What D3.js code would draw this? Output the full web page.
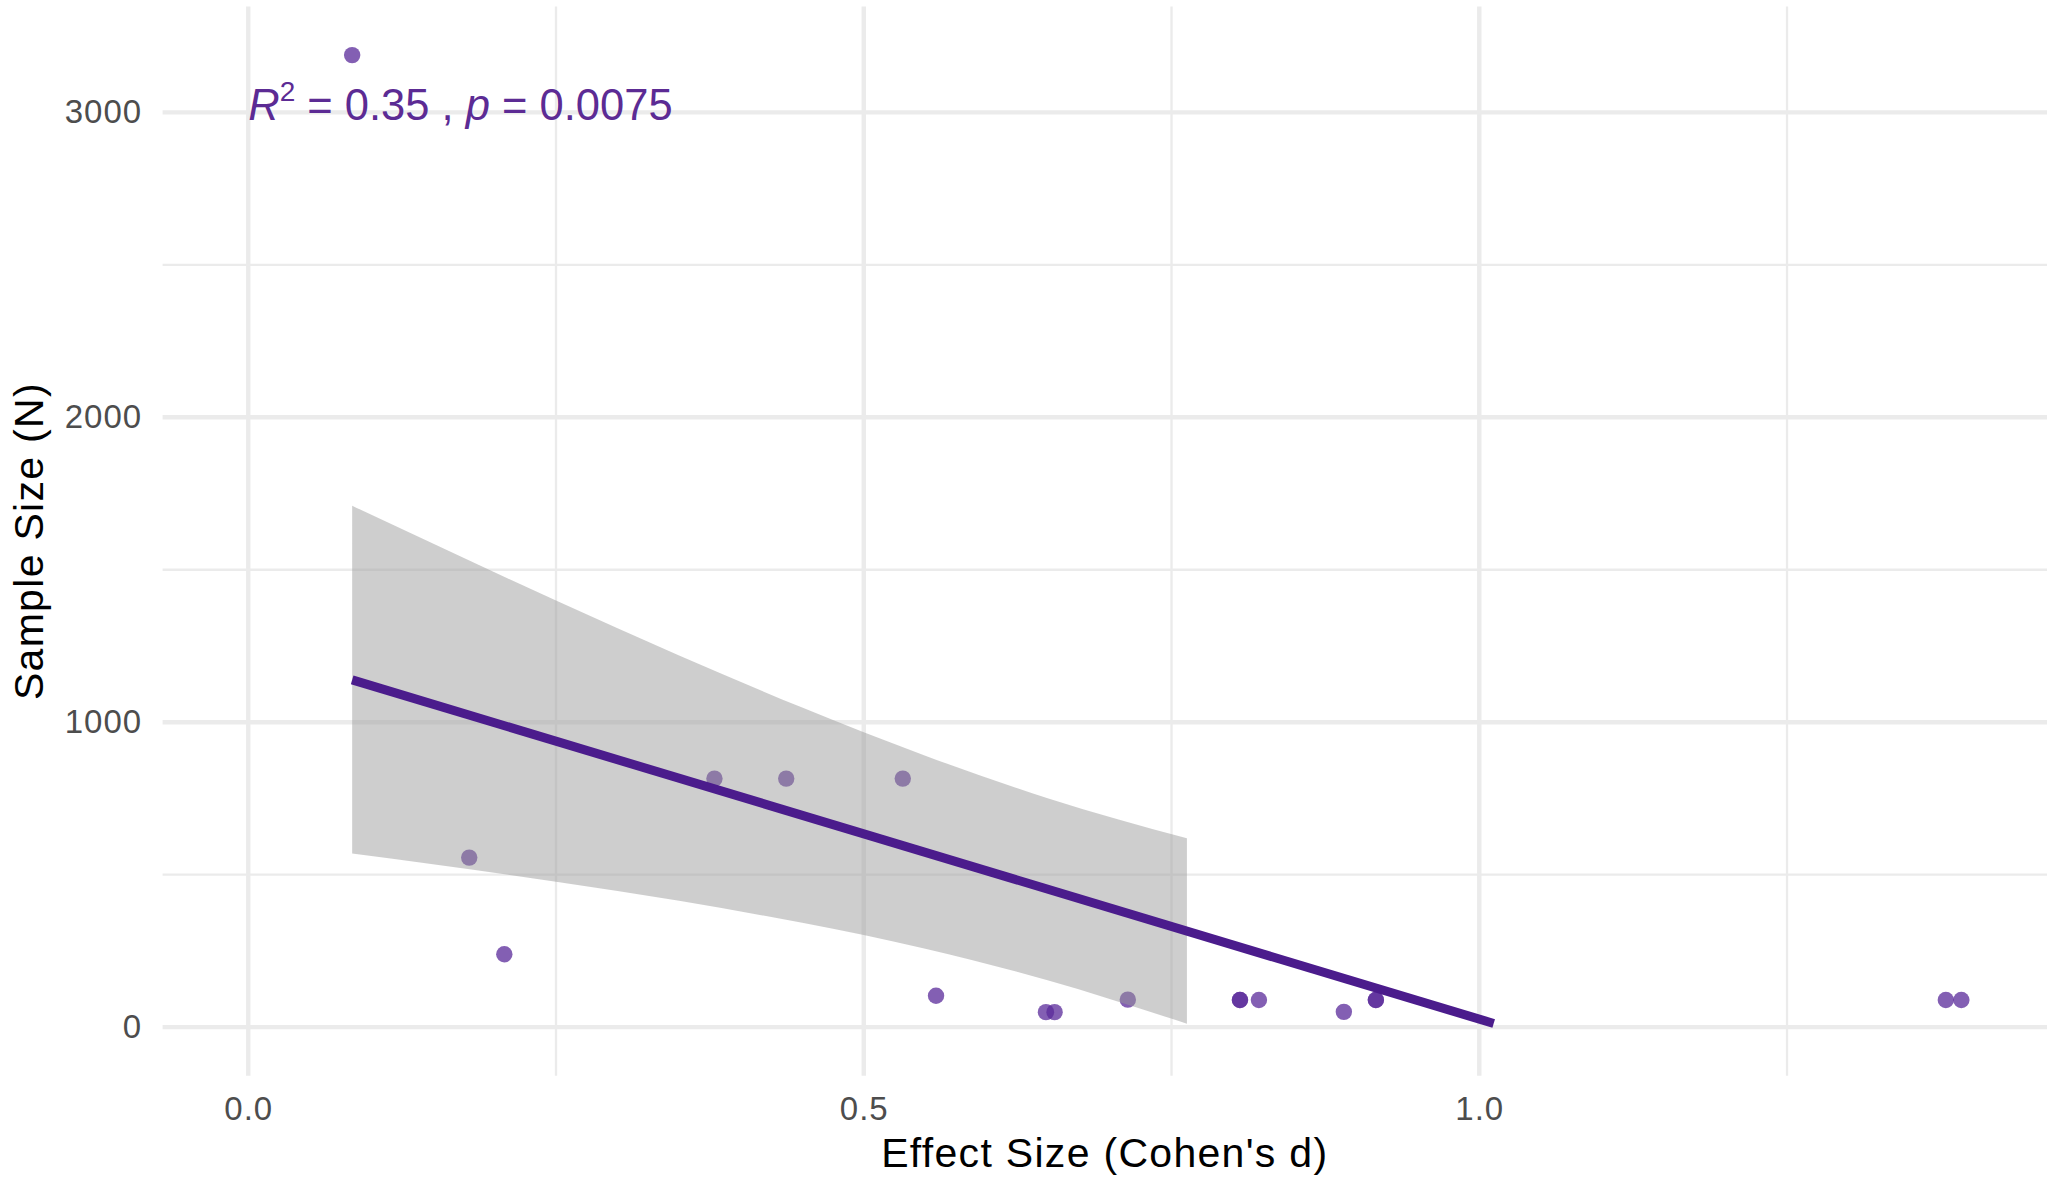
<!DOCTYPE html>
<html>
<head>
<meta charset="utf-8">
<script src="https://cdn.jsdelivr.net/npm/d3@7"></script>
<style>
  html, body { margin: 0; padding: 0; background: #ffffff; }
  svg { display: block; font-family: "Liberation Sans", Arial, Helvetica, sans-serif; }
</style>
</head>
<body>
<svg id="chart" width="2049" height="1184"></svg>
<script>
// ---- data ----
const effectSize = [0.0844, 0.1795, 0.208, 0.3787, 0.437, 0.5317, 0.5587, 0.648, 0.655,
                    0.7145, 0.8056, 0.8056, 0.821, 0.890, 0.916, 0.916, 1.379, 1.3916];
const sampleSize = [3188, 556, 239, 815, 815, 815, 103, 49, 49,
                    90, 89, 89, 89, 50, 89, 89, 89, 89];

// fitted regression line (clipped where it leaves the y scale at 0)
const fitX = [0.0844, 1.0117];
const fitY = [1139, 12];

// 95% confidence band of the fit
const bandX    = [0.0844, 0.15, 0.25, 0.35, 0.45, 0.55, 0.65, 0.7625];
const bandHigh = [1710, 1586, 1399, 1219, 1048, 890, 750, 619];
const bandLow  = [569, 534, 477, 414, 342, 257, 153, 11];

// axis ticks
const xMajor = [0, 0.5, 1.0];
const xMajorLabels = ["0.0", "0.5", "1.0"];
const xMinor = [0.25, 0.75, 1.25];
const yMajor = [0, 1000, 2000, 3000];
const yMajorLabels = ["0", "1000", "2000", "3000"];
const yMinor = [500, 1500, 2500];

// texts
const xTitle = "Effect Size (Cohen's d)";
const yTitle = "Sample Size (N)";
const statR2 = "0.35";
const statP = "0.0075";
const statLabelX = 0;
const statLabelY = 3000;

// ---- layout ----
const svg = d3.select("#chart");
const panel = { left: 162.6, right: 2047, top: 6.5, bottom: 1075.7 };

const xExt = d3.extent(effectSize.concat([statLabelX]));
const xPad = (xExt[1] - xExt[0]) * 0.05;
const yExt = [0, d3.max(sampleSize)];
const yPad = (yExt[1] - yExt[0]) * 0.05;

const x = d3.scaleLinear().domain([xExt[0] - xPad, xExt[1] + xPad]).range([panel.left, panel.right]);
const y = d3.scaleLinear().domain([yExt[0] - yPad, yExt[1] + yPad]).range([panel.bottom, panel.top]);

const gridColor = "#ebebeb";

// minor grid
const grid = svg.append("g");
grid.selectAll("line.xminor").data(xMinor).join("line")
  .attr("x1", d => x(d)).attr("x2", d => x(d))
  .attr("y1", panel.top).attr("y2", panel.bottom)
  .attr("stroke", gridColor).attr("stroke-width", 2.3);
grid.selectAll("line.yminor").data(yMinor).join("line")
  .attr("y1", d => y(d)).attr("y2", d => y(d))
  .attr("x1", panel.left).attr("x2", panel.right)
  .attr("stroke", gridColor).attr("stroke-width", 2.3);
// major grid
grid.selectAll("line.xmajor").data(xMajor).join("line")
  .attr("x1", d => x(d)).attr("x2", d => x(d))
  .attr("y1", panel.top).attr("y2", panel.bottom)
  .attr("stroke", gridColor).attr("stroke-width", 4.4);
grid.selectAll("line.ymajor").data(yMajor).join("line")
  .attr("y1", d => y(d)).attr("y2", d => y(d))
  .attr("x1", panel.left).attr("x2", panel.right)
  .attr("stroke", gridColor).attr("stroke-width", 4.4);

// points
const pts = effectSize.map((d, i) => ({ x: d, y: sampleSize[i] }));
svg.append("g").selectAll("circle").data(pts).join("circle")
  .attr("cx", d => x(d.x)).attr("cy", d => y(d.y)).attr("r", 8.2)
  .attr("fill", "#5a2a9a").attr("fill-opacity", 0.75);

// confidence band
const band = bandX.map((d, i) => ({ x: d, lo: bandLow[i], hi: bandHigh[i] }));
svg.append("path").datum(band)
  .attr("d", d3.area().x(d => x(d.x)).y0(d => y(d.lo)).y1(d => y(d.hi)).curve(d3.curveMonotoneX))
  .attr("fill", "#999999").attr("fill-opacity", 0.48);

// fit line
const fit = fitX.map((d, i) => ({ x: d, y: fitY[i] }));
svg.append("path").datum(fit)
  .attr("d", d3.line().x(d => x(d.x)).y(d => y(d.y)))
  .attr("fill", "none").attr("stroke", "#4b1c8c").attr("stroke-width", 9);

// stat label
const lab = svg.append("text")
  .attr("x", x(statLabelX)).attr("y", y(statLabelY)).attr("dy", "0.17em")
  .attr("font-size", 43.5).attr("fill", "#5c2b94");
lab.append("tspan").attr("font-style", "italic").text("R");
lab.append("tspan").attr("font-size", 28).attr("dy", -19).text("2");
lab.append("tspan").attr("dy", 19).text(" = " + statR2 + " , ");
lab.append("tspan").attr("font-style", "italic").text("p");
lab.append("tspan").text(" = " + statP);

// axes (labels only)
const xAxis = svg.append("g").attr("transform", `translate(0,${panel.bottom})`)
  .call(d3.axisBottom(x).tickValues(xMajor).tickFormat((d, i) => xMajorLabels[i]).tickSize(0).tickPadding(21));
const yAxis = svg.append("g").attr("transform", `translate(${panel.left},0)`)
  .call(d3.axisLeft(y).tickValues(yMajor).tickFormat((d, i) => yMajorLabels[i]).tickSize(0).tickPadding(20.5));
[xAxis, yAxis].forEach(a => {
  a.select(".domain").remove();
  a.selectAll("text").attr("font-size", 33).attr("fill", "#4d4d4d")
    .attr("letter-spacing", "1px")
    .attr("font-family", "'Liberation Sans', Arial, sans-serif");
});

// axis titles
svg.append("text").attr("x", (panel.left + panel.right) / 2).attr("y", 1167)
  .attr("text-anchor", "middle").attr("font-size", 41).attr("letter-spacing", "1.3px")
  .attr("fill", "#000").text(xTitle);
svg.append("text")
  .attr("transform", `translate(43,${(panel.top + panel.bottom) / 2}) rotate(-90)`)
  .attr("text-anchor", "middle").attr("font-size", 41).attr("letter-spacing", "1.3px")
  .attr("fill", "#000").text(yTitle);
</script>
</body>
</html>
